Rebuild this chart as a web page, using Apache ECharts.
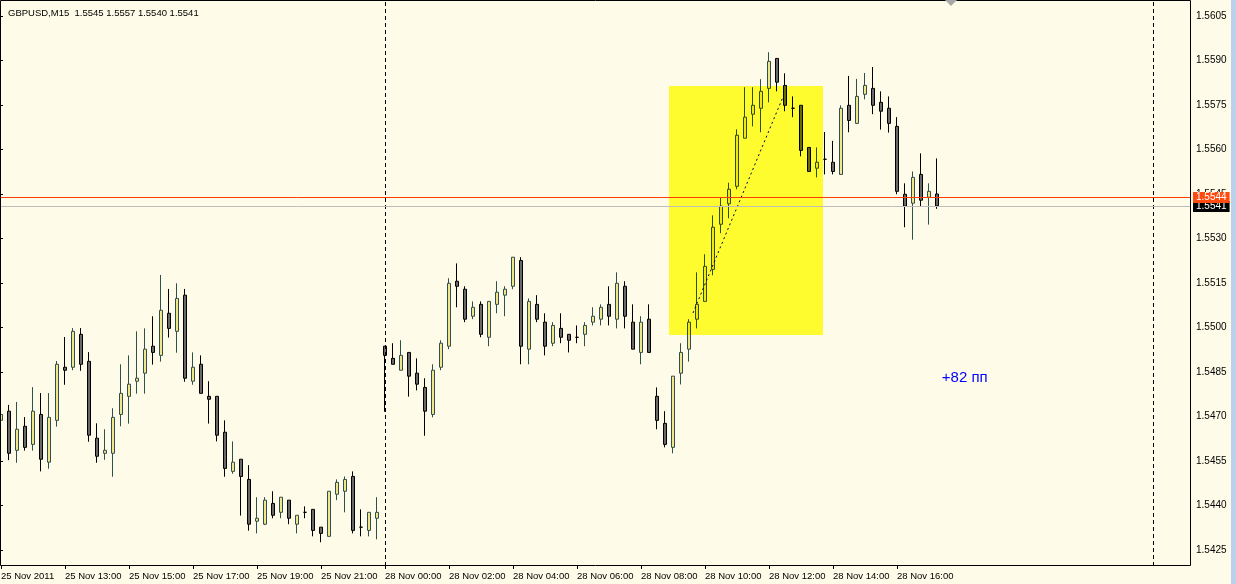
<!DOCTYPE html>
<html><head><meta charset="utf-8">
<script src="https://cdn.jsdelivr.net/npm/echarts@6/dist/echarts.min.js"></script>
<style>html,body{margin:0;padding:0;background:#FEFCE8;}#c{width:1236px;height:584px;}</style>
</head><body><div id="c"></div>
<script>
// ---- data (GBPUSD M15, 25 Nov 11:00 .. 28 Nov 17:15) ----
const opens = [1.54687,1.54718,1.54586,1.54667,1.54606,1.54707,1.54546,1.54687,1.54866,1.54866,
1.54977,1.54886,1.54627,1.54576,1.54576,1.54707,1.54768,1.54819,1.54846,1.54937,
1.54906,1.55048,1.54987,1.55109,1.54819,1.54876,1.54768,1.54768,1.54647,1.54515,
1.54556,1.54488,1.54347,1.54337,1.54407,1.54377,1.54418,1.54337,1.54377,1.54387,
1.54327,1.54296,1.54438,1.54448,1.54498,1.54327,1.54316,1.54357,1.54937,1.54896,
1.54856,1.54916,1.54846,1.54798,1.54707,1.54866,1.54937,1.55156,1.55129,1.55038,
1.55078,1.54967,1.55078,1.55109,1.55139,1.55226,1.54927,1.55078,1.55018,1.54947,
1.54997,1.54977,1.54967,1.54977,1.55018,1.55028,1.55078,1.55028,1.55139,1.55018,
1.54916,1.55028,1.54768,1.54677,1.54596,1.54846,1.54927,1.55028,1.55088,1.55196,
1.55348,1.55417,1.55476,1.55638,1.55719,1.55739,1.55806,1.55907,1.55816,1.55739,
1.55749,1.55607,1.55537,1.55567,1.55557,1.55516,1.55749,1.55688,1.55786,1.55806,
1.55759,1.55739,1.55678,1.55449,1.55419,1.55516,1.55439,1.55450];
const highs = [1.54759,1.54739,1.54749,1.54698,1.54799,1.54779,1.54779,1.54887,1.54968,1.54998,
1.54998,1.54917,1.54677,1.54657,1.54728,1.54876,1.54906,1.54987,1.54997,1.55038,
1.55177,1.55130,1.55149,1.55130,1.54916,1.54906,1.54819,1.54768,1.54687,1.54616,
1.54556,1.54536,1.54428,1.54428,1.54448,1.54428,1.54418,1.54367,1.54397,1.54387,
1.54327,1.54448,1.54488,1.54498,1.54515,1.54387,1.54377,1.54428,1.54937,1.54947,
1.54957,1.54916,1.54896,1.54829,1.54876,1.54957,1.55166,1.55216,1.55139,1.55088,
1.55088,1.55088,1.55156,1.55139,1.55237,1.55237,1.55098,1.55109,1.55048,1.55018,
1.55048,1.54977,1.55007,1.55018,1.55068,1.55078,1.55139,1.55186,1.55156,1.55078,
1.55038,1.55078,1.54798,1.54718,1.54836,1.54947,1.55028,1.55186,1.55247,1.55378,
1.55437,1.55488,1.55668,1.55810,1.55810,1.55837,1.55928,1.55907,1.55857,1.55779,
1.55749,1.55607,1.55607,1.55659,1.55629,1.55749,1.55848,1.55838,1.55858,1.55878,
1.55796,1.55779,1.55709,1.55486,1.55526,1.55587,1.55486,1.55570];
const lows = [1.54635,1.54553,1.54544,1.54585,1.54585,1.54515,1.54524,1.54666,1.54807,1.54856,
1.54854,1.54615,1.54544,1.54554,1.54497,1.54667,1.54676,1.54777,1.54777,1.54875,
1.54885,1.54966,1.54915,1.54817,1.54807,1.54778,1.54676,1.54616,1.54497,1.54507,
1.54366,1.54315,1.54306,1.54334,1.54357,1.54357,1.54337,1.54306,1.54357,1.54296,
1.54276,1.54296,1.54418,1.54377,1.54306,1.54296,1.54296,1.54286,1.54716,1.54876,
1.54856,1.54767,1.54788,1.54635,1.54697,1.54856,1.54927,1.55068,1.55018,1.55028,
1.54967,1.54937,1.55048,1.55038,1.55129,1.54876,1.54876,1.55018,1.54906,1.54937,
1.54947,1.54916,1.54947,1.54937,1.55007,1.55007,1.55007,1.54997,1.54997,1.54927,
1.54876,1.54916,1.54657,1.54596,1.54576,1.54808,1.54885,1.54997,1.55088,1.55176,
1.55318,1.55368,1.55466,1.55638,1.55678,1.55658,1.55759,1.55796,1.55729,1.55709,
1.55577,1.55526,1.55506,1.55516,1.55516,1.55516,1.55658,1.55688,1.55769,1.55719,
1.55667,1.55657,1.55449,1.55338,1.55296,1.55409,1.55347,1.55400];
const closes = [1.54707,1.54576,1.54657,1.54596,1.54718,1.54556,1.54697,1.54876,1.54856,1.54987,
1.54876,1.54637,1.54566,1.54586,1.54697,1.54778,1.54809,1.54829,1.54927,1.54916,
1.55058,1.54997,1.55098,1.54829,1.54866,1.54778,1.54758,1.54637,1.54525,1.54546,
1.54498,1.54337,1.54357,1.54418,1.54367,1.54428,1.54357,1.54367,1.54377,1.54316,
1.54306,1.54448,1.54478,1.54488,1.54316,1.54327,1.54377,1.54377,1.54906,1.54876,
1.54906,1.54836,1.54809,1.54718,1.54856,1.54947,1.55149,1.55139,1.55028,1.55068,
1.54977,1.55088,1.55119,1.55129,1.55237,1.54937,1.55088,1.55028,1.54937,1.55007,
1.54967,1.54957,1.54967,1.55007,1.55038,1.55068,1.55038,1.55149,1.55038,1.54927,
1.55018,1.54916,1.54687,1.54606,1.54836,1.54916,1.55018,1.55078,1.55206,1.55338,
1.55409,1.55466,1.55648,1.55709,1.55749,1.55796,1.55897,1.55827,1.55749,1.55739,
1.55597,1.55526,1.55557,1.55567,1.55526,1.55739,1.55698,1.55779,1.55816,1.55749,
1.55729,1.55688,1.55459,1.55409,1.55506,1.55429,1.55459,1.55410];

const xLabels = ['25 Nov 2011','25 Nov 13:00','25 Nov 15:00','25 Nov 17:00','25 Nov 19:00','25 Nov 21:00',
 '28 Nov 00:00','28 Nov 02:00','28 Nov 04:00','28 Nov 06:00','28 Nov 08:00','28 Nov 10:00',
 '28 Nov 12:00','28 Nov 14:00','28 Nov 16:00'];
const yTickLabels = ['1.5425','1.5440','1.5455','1.5470','1.5485','1.5500','1.5515',
 '1.5530','1.5545','1.5560','1.5575','1.5590','1.5605'];
const header = 'GBPUSD,M15  1.5545 1.5557 1.5540 1.5541';
const priceLevels = [1.5541, 1.5544];            // bid, ask
const priceLineColors = ['#BDBDBD', '#FF3C00'];
const priceBoxColors = ['#000000', '#FF4A10'];
const daySeparators = [48, 144];
const boxX = [83.5, 102.75], boxY = [1.54975, 1.55814];
const trendX = [86.5, 97.75], trendY = [1.55049, 1.55777];
const noteText = '+82 пп', noteX = 117.6, noteY = 1.5483;

// ---- layout helpers ----
const slots = 149;            // bar slots incl. right shift area
const labelStep = 8;          // a time label every 8 bars
const tickLo = parseFloat(yTickLabels[0]), tickHi = parseFloat(yTickLabels[yTickLabels.length-1]);
const pad = (tickHi - tickLo) * 16 / 534;
const FONT = '"Liberation Sans", Arial, sans-serif';

const categories = Array.from({length: slots}, (_, i) => String(i));
const candleData = opens.map((o, i) => [o, closes[i], lows[i], highs[i]]);

const chart = echarts.init(document.getElementById('c'), null, {renderer: 'canvas'});
chart.setOption({
  animation: false,
  backgroundColor: '#FEFCE8',
  title: { text: header, left: 3, top: 3, textStyle: { fontSize: 9.5, fontWeight: 'normal', color: '#000', fontFamily: FONT } },
  grid: [
    { left: 1, right: 51, top: 0, bottom: 18, containLabel: false, outerBoundsMode: 'none' },
    { left: 0, right: 46, top: 16, bottom: 34, containLabel: false, outerBoundsMode: 'none' }
  ],
  xAxis: [
    { type: 'category', gridIndex: 0, data: categories, boundaryGap: false,
      axisLine: { show: false },
      axisTick: { show: true, length: 3, interval: (i) => i % labelStep === 0 && i / labelStep < xLabels.length, lineStyle: { color: '#000' } },
      axisLabel: { show: true, interval: (i) => i % labelStep === 0 && i / labelStep < xLabels.length,
        formatter: (v, i) => xLabels[Math.round(i / labelStep)] || '', align: 'left', margin: 5,
        fontSize: 9.5, color: '#000', fontFamily: FONT },
      splitLine: { show: false } },
    { type: 'value', gridIndex: 0, min: 0, max: slots - 1, show: false },
    { type: 'value', gridIndex: 1, min: 0, max: 1, show: false }
  ],
  yAxis: [
    { type: 'value', gridIndex: 0, min: tickLo - pad, max: tickHi + pad, show: false, splitLine: { show: false } },
    { type: 'value', gridIndex: 1, position: 'right', min: 0, max: yTickLabels.length - 1, interval: 1,
      axisLine: { show: false }, splitLine: { show: false },
      axisTick: { show: true, length: 3, lineStyle: { color: '#000' } },
      axisLabel: { margin: 6, fontSize: 10, color: '#000', fontFamily: FONT, formatter: (v) => yTickLabels[Math.round(v)] } }
  ],
  graphic: [
    { type: 'rect', silent: true, z: 100, shape: { x: 0.5, y: 0.5, width: 1190, height: 565 }, style: { fill: null, stroke: '#000', lineWidth: 1 } },
    { type: 'polygon', silent: true, z: 100, shape: { points: [[945, 0], [957, 0], [951, 6]] }, style: { fill: '#A8A8A8' } },
    { type: 'rect', silent: true, z: 100, shape: { x: 1231, y: 0, width: 5, height: 584 }, style: { fill: '#B9D1EA' } }
  ],
  series: [
    { type: 'candlestick', xAxisIndex: 0, yAxisIndex: 0, z: 2, silent: true, clip: false,
      barWidth: 4, data: candleData,
      itemStyle: { color: '#F0E68C', color0: '#696969', borderColor: '#2F4F4F', borderColor0: '#000000', borderColorDoji: '#000000', borderWidth: 1 },
      markLine: { silent: true, symbol: 'none', animation: false, label: { show: false },
        lineStyle: { color: '#000', type: [4, 3], width: 1 },
        data: daySeparators.map(d => ({ xAxis: d })) } },
    { type: 'custom', xAxisIndex: 1, yAxisIndex: 0, z: 3, silent: true, blendMode: 'multiply',
      data: [[boxX[0], boxY[0], boxX[1], boxY[1]]],
      renderItem: (p, api) => {
        const a = api.coord([api.value(0), api.value(1)]);
        const b = api.coord([api.value(2), api.value(3)]);
        return { type: 'rect', shape: { x: Math.min(a[0], b[0]), y: Math.min(a[1], b[1]), width: Math.abs(b[0] - a[0]), height: Math.abs(b[1] - a[1]) },
          style: { fill: '#FFFF33' } };
      } },
    { type: 'custom', xAxisIndex: 1, yAxisIndex: 0, z: 4, silent: true,
      data: [[trendX[0], trendY[0], trendX[1], trendY[1]]],
      renderItem: (p, api) => {
        const a = api.coord([api.value(0), api.value(1)]);
        const b = api.coord([api.value(2), api.value(3)]);
        return { type: 'line', shape: { x1: a[0], y1: a[1], x2: b[0], y2: b[1] },
          style: { stroke: '#000040', lineWidth: 1, lineDash: [2, 3] } };
      } },
    { type: 'custom', xAxisIndex: 1, yAxisIndex: 0, z: 5, silent: true, clip: false,
      data: priceLevels.map((p, i) => [i, p]),
      renderItem: (params, api) => {
        const i = api.value(0), price = api.value(1);
        const a = api.coord([0, price]);
        const b = api.coord([slots - 1, price]);
        const y = Math.round(a[1]) + 0.5;
        return { type: 'group', children: [
          { type: 'line', shape: { x1: 0, y1: y, x2: b[0] + 5, y2: y }, style: { stroke: priceLineColors[i], lineWidth: 1 } },
          { type: 'text', x: b[0] + 8, y: y,
            style: { text: price.toFixed(4), fill: '#fff', backgroundColor: priceBoxColors[i], padding: [1, 3, 0, 3],
              font: '10px ' + FONT, align: 'left', verticalAlign: 'middle' } }
        ] };
      } },
    { type: 'custom', xAxisIndex: 1, yAxisIndex: 0, z: 4, silent: true,
      data: [[noteX, noteY]],
      renderItem: (p, api) => {
        const a = api.coord([api.value(0), api.value(1)]);
        return { type: 'text', x: a[0], y: a[1],
          style: { text: noteText, fill: '#0000FF', font: '15px ' + FONT, align: 'left', verticalAlign: 'middle' } };
      } }
  ]
});
</script></body></html>
